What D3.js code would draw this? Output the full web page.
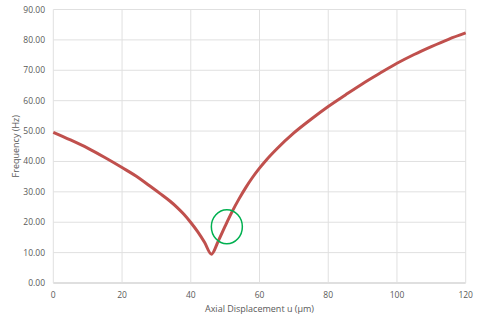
<!DOCTYPE html>
<html>
<head>
<meta charset="utf-8">
<script src="https://cdn.jsdelivr.net/npm/d3@7"></script>
<style>
  body { margin: 0; background: #fff; }
  text { font-family: "Open Sans", "Liberation Sans", sans-serif; fill: #595959; }
</style>
</head>
<body>
<div id="canvas"></div>
<script>
"use strict"

/* Data */
let displacement = [0, 5, 10, 15, 20, 25, 28, 31, 34, 36, 38, 40, 42, 44, 46,
  48, 50, 52, 54, 56, 58, 60, 62, 65, 70, 75, 80, 85, 90, 95, 100, 105, 110, 115, 120];
let frequency = [49.6, 47.1, 44.4, 41.3, 38.0, 34.5, 32.0, 29.5, 26.9, 24.9, 22.6, 19.9, 16.9, 13.4, 9.5,
  13.8, 18.7, 23.4, 27.6, 31.4, 34.8, 37.8, 40.5, 44.1, 49.4, 53.9, 58.1, 61.9, 65.6, 69.0, 72.3, 75.2, 77.8, 80.2, 82.3];
let xTicks = [0, 20, 40, 60, 80, 100, 120];
let yTicks = [0, 10, 20, 30, 40, 50, 60, 70, 80, 90];
let marked = { x: 50.5, y: 18.5 };   // green ring

/* Drawing */
let svgWidth = 480;
let svgHeight = 316;
let plotLeft = 53.3, plotRight = 465.7, plotTop = 9.5, plotBottom = 283;

let svg = d3.select("#canvas")
    .append("svg")
    .attr("width", svgWidth)
    .attr("height", svgHeight);

let xScale = d3.scaleLinear().domain([0, 120]).range([plotLeft, plotRight]);
let yScale = d3.scaleLinear().domain([0, 90]).range([plotBottom, plotTop]);

// grid
svg.append("g")
    .selectAll("line")
    .data(yTicks)
    .join("line")
    .attr("x1", plotLeft)
    .attr("x2", plotRight)
    .attr("y1", d => yScale(d))
    .attr("y2", d => yScale(d))
    .attr("stroke", d => d === 0 ? "#bfbfbf" : "#e0e0e0")
    .attr("stroke-width", 1);

svg.append("g")
    .selectAll("line")
    .data(xTicks)
    .join("line")
    .attr("x1", d => xScale(d))
    .attr("x2", d => xScale(d))
    .attr("y1", plotTop)
    .attr("y2", plotBottom)
    .attr("stroke", "#e0e0e0")
    .attr("stroke-width", 1);

// tick labels
svg.append("g")
    .selectAll("text")
    .data(yTicks)
    .join("text")
    .attr("x", 45)
    .attr("y", d => yScale(d) + 3)
    .attr("text-anchor", "end")
    .attr("font-size", 8.5)
    .text(d => d.toFixed(2));

svg.append("g")
    .selectAll("text")
    .data(xTicks)
    .join("text")
    .attr("x", d => xScale(d))
    .attr("y", 298)
    .attr("text-anchor", "middle")
    .attr("font-size", 8.5)
    .text(d => d);

// axis titles
svg.append("text")
    .attr("x", xScale(60))
    .attr("y", 311.5)
    .attr("text-anchor", "middle")
    .attr("font-size", 9)
    .text("Axial Displacement u (\u00b5m)");

svg.append("text")
    .attr("transform", "translate(19," + yScale(45) + ") rotate(-90)")
    .attr("text-anchor", "middle")
    .attr("font-size", 9)
    .text("Frequency (Hz)");

// curve
let line = d3.line()
    .x((d, i) => xScale(displacement[i]))
    .y(d => yScale(d))
    .curve(d3.curveMonotoneX);

svg.append("path")
    .datum(frequency)
    .attr("d", line)
    .attr("fill", "none")
    .attr("stroke", "#c0504d")
    .attr("stroke-width", 3)
    .attr("stroke-linejoin", "round");

// green ring
svg.append("ellipse")
    .attr("cx", xScale(marked.x))
    .attr("cy", yScale(marked.y))
    .attr("rx", 15.5)
    .attr("ry", 17)
    .attr("fill", "none")
    .attr("stroke", "#00b050")
    .attr("stroke-width", 1.5);
</script>
</body>
</html>
